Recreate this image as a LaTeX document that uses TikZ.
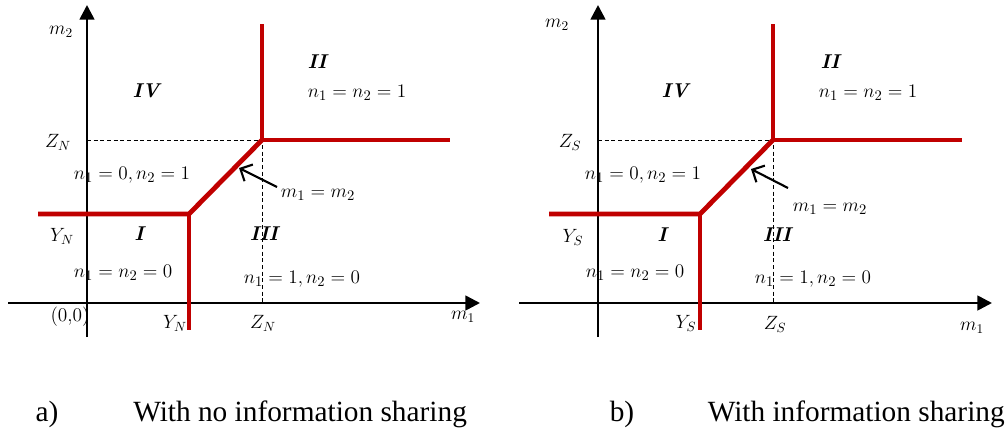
\documentclass[tikz,border=0pt]{standalone}
\usepackage{fontspec}
\newfontfamily\capfont{Liberation Serif}
\usetikzlibrary{arrows.meta}
\definecolor{redline}{RGB}{192,0,0}
\begin{document}
\begin{tikzpicture}[x=0.75pt,y=-0.75pt,
  axis/.style={line width=2pt,-{Triangle[length=11pt,width=11pt]}},
  redl/.style={line width=3.6pt,redline,line join=miter},
  dashl/.style={line width=0.7pt,dash pattern=on 3pt off 2pt},
  pointer/.style={line width=1.6pt,-{Straight Barb[length=7pt,width=14pt,line width=1.6pt]}},
  lbl/.style={inner sep=0pt,font=\fontsize{15}{17}\selectfont},
  axl/.style={inner sep=0pt,font=\fontsize{14.5}{16}\selectfont},
  reg/.style={inner sep=0pt,font=\fontsize{15}{17}\selectfont\bfseries\itshape},
  captext/.style={inner sep=0pt,font=\fontsize{22}{26}\selectfont\capfont}]
\useasboundingbox (0,0) rectangle (1008,429);

% ---------- panel a ----------
\coordinate (aXs) at (8,303);   \coordinate (aXe) at (480,303);
\coordinate (aYs) at (87,337);  \coordinate (aYe) at (87,5);
\coordinate (aZy) at (87,140);  \coordinate (aP) at (262,140);
\coordinate (aZx) at (262,303); \coordinate (aT) at (262,24);
\coordinate (aR) at (450,140);  \coordinate (aQ) at (189,214);
\coordinate (aL) at (38,214);   \coordinate (aB) at (189,330);
\coordinate (aA1) at (277,187); \coordinate (aA2) at (239,168);

\draw[dashl] (aZy) -- (aP) -- (aZx);
\draw[axis] (aXs) -- (aXe);
\draw[axis] (aYs) -- (aYe);
\draw[redl] (aT) -- (aP) -- (aR);
\draw[redl] (aL) -- (aQ) -- (aP);
\draw[redl] (aQ) -- (aB);
\draw[pointer] (aA1) -- (aA2);

\node[axl] (am2) at (61,32) {$m_2$};
\node[axl] (aZN) at (58,142) {$Z_N$};
\node[axl] (aYN) at (62,236) {$Y_N$};
\node[axl] (a00) at (70,317) {(0,0)};
\node[axl] (aYNb) at (175,323) {$Y_N$};
\node[axl] (aZNb) at (263,323) {$Z_N$};
\node[axl] (am1) at (463,317) {$m_1$};
\node[reg] (aIV) at (146,91) {IV};
\node[reg] (aII) at (317,62) {II};
\node[reg] (aI) at (139,234) {I};
\node[reg] (aIII) at (264,234) {III};
\node[lbl] (an11) at (357,93) {$n_1=n_2=1$};
\node[lbl] (an01) at (132,175) {$n_1=0,n_2=1$};
\node[lbl] (amm) at (318,195) {$m_1=m_2$};
\node[lbl] (an00) at (123,273) {$n_1=n_2=0$};
\node[lbl] (an10) at (302,279) {$n_1=1,n_2=0$};

% ---------- panel b ----------
\coordinate (bXs) at (519,303);  \coordinate (bXe) at (992,303);
\coordinate (bYs) at (598,337);  \coordinate (bYe) at (598,5);
\coordinate (bZy) at (598,140);  \coordinate (bP) at (773,140);
\coordinate (bZx) at (773,303);  \coordinate (bT) at (773,24);
\coordinate (bR) at (962,140);   \coordinate (bQ) at (700,214);
\coordinate (bL) at (549,214);   \coordinate (bB) at (700,330);
\coordinate (bA1) at (788,188);  \coordinate (bA2) at (751,169);

\draw[dashl] (bZy) -- (bP) -- (bZx);
\draw[axis] (bXs) -- (bXe);
\draw[axis] (bYs) -- (bYe);
\draw[redl] (bT) -- (bP) -- (bR);
\draw[redl] (bL) -- (bQ) -- (bP);
\draw[redl] (bQ) -- (bB);
\draw[pointer] (bA1) -- (bA2);

\node[axl] (bm2) at (557,25) {$m_2$};
\node[axl] (bZS) at (570,142) {$Z_S$};
\node[axl] (bYS) at (573,237) {$Y_S$};
\node[axl] (bYSb) at (686,323) {$Y_S$};
\node[axl] (bZSb) at (775,324) {$Z_S$};
\node[axl] (bm1) at (972,328) {$m_1$};
\node[reg] (bIV) at (675,91) {IV};
\node[reg] (bII) at (830,62) {II};
\node[reg] (bI) at (662,235) {I};
\node[reg] (bIII) at (777,235) {III};
\node[lbl] (bn11) at (868,93) {$n_1=n_2=1$};
\node[lbl] (bn01) at (643,175) {$n_1=0,n_2=1$};
\node[lbl] (bmm) at (830,209) {$m_1=m_2$};
\node[lbl] (bn00) at (635,273) {$n_1=n_2=0$};
\node[lbl] (bn10) at (813,279) {$n_1=1,n_2=0$};

% ---------- captions ----------
\node[captext,anchor=base] (capa) at (47,421) {a)};
\node[captext,anchor=base west] (capat) at (133,421) {With no information sharing};
\node[captext,anchor=base] (capb) at (622,421) {b)};
\node[captext,anchor=base east] (capbt) at (1005,421) {With information sharing};
\end{tikzpicture}
\end{document}
